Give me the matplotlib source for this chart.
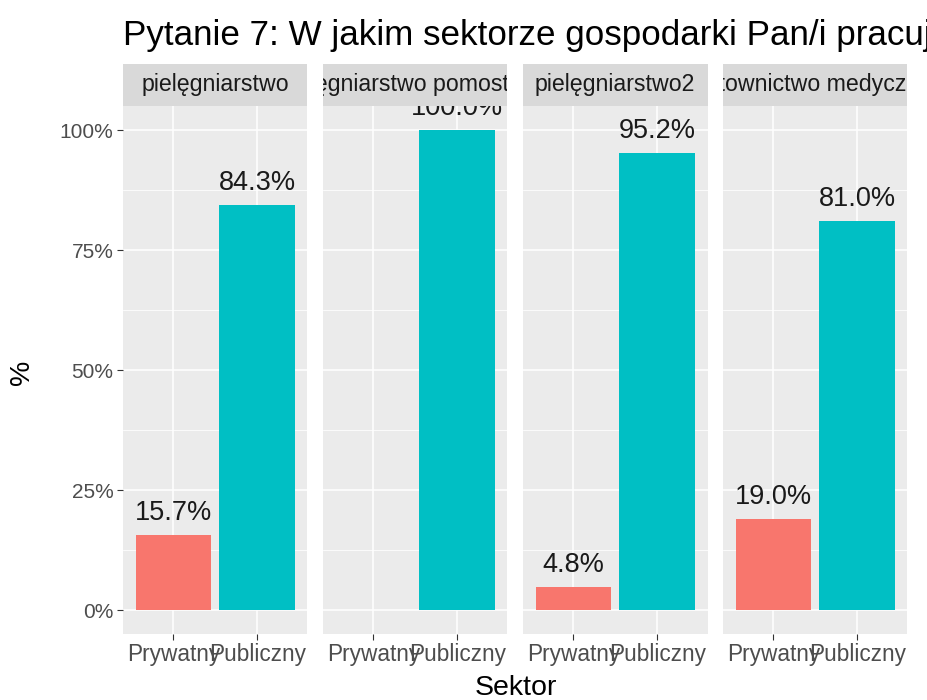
import matplotlib
matplotlib.use("Agg")
import matplotlib.pyplot as plt
from matplotlib.patches import Rectangle
from matplotlib.ticker import FixedLocator

plt.rcParams['font.family'] = ['Liberation Sans', 'DejaVu Sans']

# data
facets = ["pielęgniarstwo", "pielęgniarstwo pomostowe", "pielęgniarstwo2", "ratownictwo medyczne"]
sectors = ["Prywatny", "Publiczny"]
# percent values per facet (None = no bar)
prywatny = [15.7, None, 4.8, 19.0]
publiczny = [84.3, 100.0, 95.2, 81.0]
y_ticks = [0, 25, 50, 75, 100]
y_tick_labels = ["0%", "25%", "50%", "75%", "100%"]
title = "Pytanie 7: W jakim sektorze gospodarki Pan/i pracuje?"

colors = {"Prywatny": "#F8766D", "Publiczny": "#00BFC4"}

W, H = 928, 700
fig = plt.figure(figsize=(W / 100, H / 100), dpi=100)

panel_lefts = [123, 323, 523, 723]
panel_w = 184.5
panel_top, panel_bot = 106, 634
strip_top = 64

for i, facet in enumerate(facets):
    left = panel_lefts[i]
    ax = fig.add_axes([left / W, 1 - panel_bot / H, panel_w / W, (panel_bot - panel_top) / H])
    ax.set_facecolor("#EBEBEB")
    for s in ax.spines.values():
        s.set_visible(False)

    vals = [prywatny[i], publiczny[i]]
    for j, (sec, v) in enumerate(zip(sectors, vals)):
        if v is None:
            continue
        ax.bar(j + 1, v, width=0.9, color=colors[sec], zorder=3)
        ax.annotate(f"{v:.1f}%", (j + 1, v), xytext=(0, 6.5), textcoords="offset points",
                    ha="center", va="bottom", fontsize=19.5, color="#1A1A1A",
                    zorder=4, annotation_clip=False, clip_on=True)

    ax.set_xlim(0.4, 2.6)
    ax.set_ylim(-5, 105)
    ax.set_xticks([1, 2])
    ax.set_xticklabels(sectors)
    ax.yaxis.set_major_locator(FixedLocator(y_ticks))
    ax.yaxis.set_minor_locator(FixedLocator([12.5, 37.5, 62.5, 87.5]))
    ax.grid(which="major", color="white", linewidth=1.1, zorder=1)
    ax.grid(which="minor", axis="y", color="white", linewidth=0.55, zorder=1)
    ax.set_axisbelow(True)
    ax.tick_params(axis="both", which="major", length=4.3, width=0.8, color="#333333",
                   labelcolor="#4D4D4D", labelsize=16.3, pad=2.5)
    ax.tick_params(axis="both", which="minor", length=0)
    if i == 0:
        ax.set_yticklabels(y_tick_labels)
        ax.tick_params(axis="y", labelsize=15)
    else:
        ax.tick_params(axis="y", which="major", left=False, labelleft=False)

    # facet strip
    sax = fig.add_axes([left / W, 1 - panel_top / H, panel_w / W, (panel_top - strip_top) / H])
    sax.set_xlim(0, 1)
    sax.set_ylim(0, 1)
    sax.axis("off")
    sax.add_patch(Rectangle((0, 0), 1, 1, facecolor="#D9D9D9", edgecolor="none",
                            transform=sax.transAxes, clip_on=False))
    t = sax.text(0.5, 0.5, facet, ha="center", va="center", fontsize=16.7, color="#1A1A1A")
    t.set_clip_on(True)
    t.set_clip_path(Rectangle((0, 0), 1, 1, transform=sax.transAxes))

fig.text(123 / W, 1 - 45 / H, title, ha="left", va="baseline", fontsize=25.2, color="black")
fig.text((123 + 908) / 2 / W, 1 - 695 / H, "Sektor", ha="center", va="baseline", fontsize=20.5)
fig.text(22 / W, 1 - 372 / H, "%", ha="center", va="center", rotation=90, fontsize=20.5)

fig.savefig("out.png", dpi=100)
